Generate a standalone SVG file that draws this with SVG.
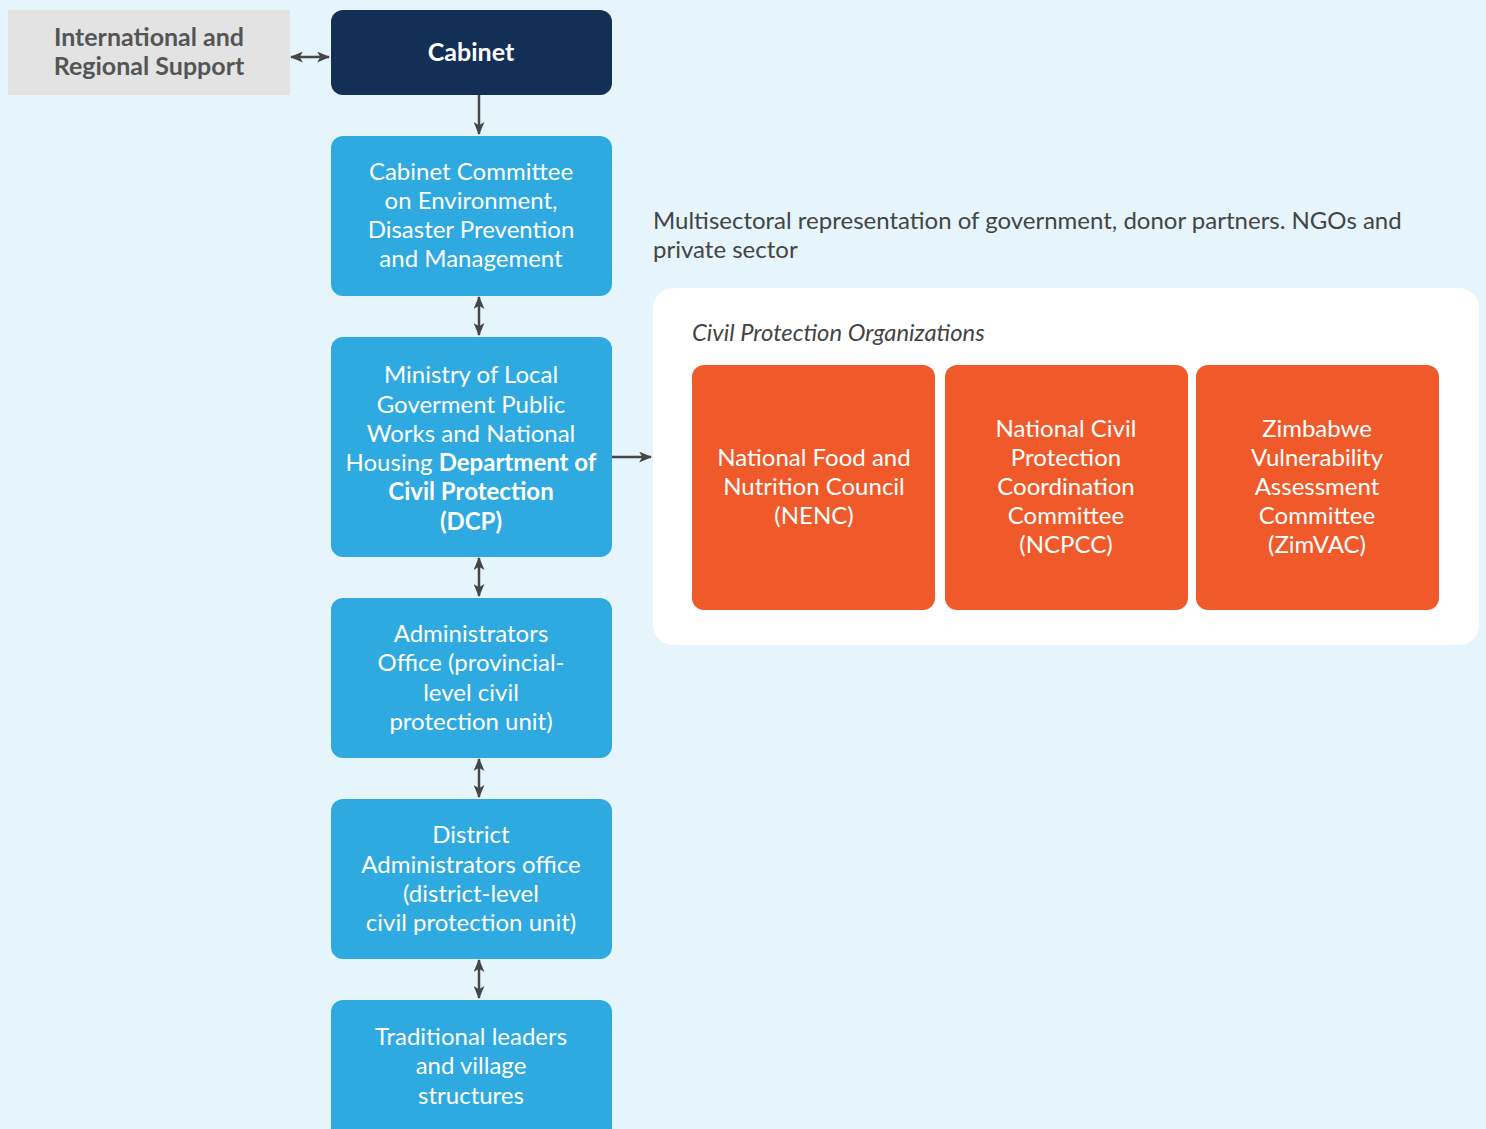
<svg xmlns="http://www.w3.org/2000/svg" width="1486" height="1129" viewBox="0 0 1486 1129">
<defs>
<style>
.t{font-family:Lato,"Open Sans","Liberation Sans",sans-serif;font-size:24px;fill:#fff;text-anchor:middle}
.b{font-weight:bold}
.blue{fill:#2EAAE1}
.org{fill:#F05A2B}
.ln{stroke:#464646;stroke-width:2.5;fill:none}
.dk{font-family:Lato,"Open Sans","Liberation Sans",sans-serif;font-size:24px;fill:#444}
</style>
<marker id="ah" viewBox="0 0 12 10" refX="11" refY="5" markerWidth="13" markerHeight="11" markerUnits="userSpaceOnUse" orient="auto-start-reverse">
<path d="M0,0 L12,5 L0,10 L3,5 Z" fill="#464646"/>
</marker>
</defs>
<rect width="1486" height="1129" fill="#E6F4FB"/>

<g id="intl">
<rect x="8" y="10" width="282" height="85" fill="#E3E3E3"/>
<text class="dk b" x="149" y="46" text-anchor="middle" style="fill:#555;font-size:25px">International and</text>
<text class="dk b" x="149" y="75" text-anchor="middle" style="fill:#555;font-size:25px">Regional Support</text>
</g>

<g id="cabinet">
<rect x="331" y="10" width="281" height="85" rx="12" fill="#132F55"/>
<text class="t b" x="471" y="61" style="font-size:25px">Cabinet</text>
</g>

<g id="committee">
<rect class="blue" x="331" y="136" width="281" height="160" rx="12"/>
<text class="t" x="471" y="180">Cabinet Committee</text>
<text class="t" x="471" y="209">on Environment,</text>
<text class="t" x="471" y="238">Disaster Prevention</text>
<text class="t" x="471" y="267">and Management</text>
</g>

<g id="ministry">
<rect class="blue" x="331" y="337" width="281" height="220" rx="12"/>
<text class="t" x="471" y="383">Ministry of Local</text>
<text class="t" x="471" y="413">Goverment Public</text>
<text class="t" x="471" y="442">Works and National</text>
<text class="t" x="471" y="471">Housing <tspan class="b">Department of</tspan></text>
<text class="t b" x="471" y="500">Civil Protection</text>
<text class="t b" x="471" y="530">(DCP)</text>
</g>

<g id="admin">
<rect class="blue" x="331" y="598" width="281" height="160" rx="12"/>
<text class="t" x="471" y="642">Administrators</text>
<text class="t" x="471" y="671">Office (provincial-</text>
<text class="t" x="471" y="701">level civil</text>
<text class="t" x="471" y="730">protection unit)</text>
</g>

<g id="district">
<rect class="blue" x="331" y="799" width="281" height="160" rx="12"/>
<text class="t" x="471" y="843">District</text>
<text class="t" x="471" y="873">Administrators office</text>
<text class="t" x="471" y="902">(district-level</text>
<text class="t" x="471" y="931">civil protection unit)</text>
</g>

<g id="traditional">
<rect class="blue" x="331" y="1000" width="281" height="150" rx="12"/>
<text class="t" x="471" y="1045">Traditional leaders</text>
<text class="t" x="471" y="1074">and village</text>
<text class="t" x="471" y="1104">structures</text>
</g>

<g id="multisectoral">
<text class="dk" x="653" y="229">Multisectoral representation of government, donor partners. NGOs and</text>
<text class="dk" x="653" y="258">private sector</text>
</g>

<g id="cpo">
<rect x="653" y="288" width="826" height="357" rx="20" fill="#fff"/>
<text class="dk" x="692" y="341" font-style="italic" style="font-size:23.8px">Civil Protection Organizations</text>
</g>

<g id="nenc">
<rect class="org" x="692" y="365" width="243" height="245" rx="12"/>
<text class="t" x="814" y="466">National Food and</text>
<text class="t" x="814" y="495">Nutrition Council</text>
<text class="t" x="814" y="524">(NENC)</text>
</g>

<g id="ncpcc">
<rect class="org" x="945" y="365" width="243" height="245" rx="12"/>
<text class="t" x="1066" y="437">National Civil</text>
<text class="t" x="1066" y="466">Protection</text>
<text class="t" x="1066" y="495">Coordination</text>
<text class="t" x="1066" y="524">Committee</text>
<text class="t" x="1066" y="553">(NCPCC)</text>
</g>

<g id="zimvac">
<rect class="org" x="1196" y="365" width="243" height="245" rx="12"/>
<text class="t" x="1317" y="437">Zimbabwe</text>
<text class="t" x="1317" y="466">Vulnerability</text>
<text class="t" x="1317" y="495">Assessment</text>
<text class="t" x="1317" y="524">Committee</text>
<text class="t" x="1317" y="553">(ZimVAC)</text>
</g>

<g id="connectors">
<line class="ln" x1="291" y1="57" x2="329" y2="57" marker-start="url(#ah)" marker-end="url(#ah)"/>
<line class="ln" x1="479" y1="95" x2="479" y2="134" marker-end="url(#ah)"/>
<line class="ln" x1="479" y1="297" x2="479" y2="335" marker-start="url(#ah)" marker-end="url(#ah)"/>
<line class="ln" x1="612" y1="457" x2="651" y2="457" marker-end="url(#ah)"/>
<line class="ln" x1="479" y1="558" x2="479" y2="596" marker-start="url(#ah)" marker-end="url(#ah)"/>
<line class="ln" x1="479" y1="759" x2="479" y2="797" marker-start="url(#ah)" marker-end="url(#ah)"/>
<line class="ln" x1="479" y1="960" x2="479" y2="998" marker-start="url(#ah)" marker-end="url(#ah)"/>
</g>
</svg>
